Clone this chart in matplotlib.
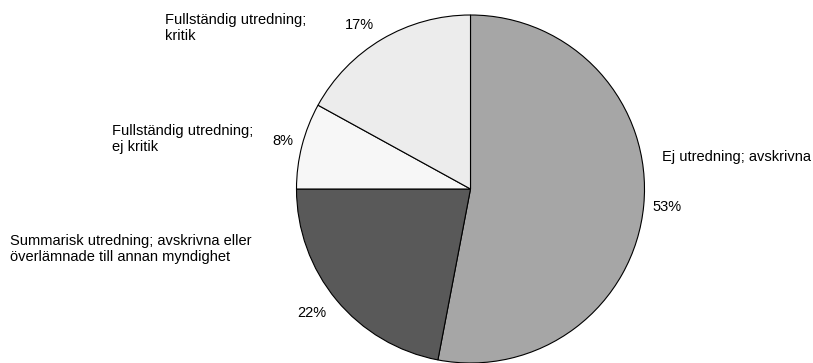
import matplotlib.pyplot as plt

plt.rcParams['font.family'] = ['Liberation Sans', 'DejaVu Sans']

# andel ärenden per utfall, medurs från kl. 12
kategorier = ['Ej utredning; avskrivna',
              'Summarisk utredning; avskrivna eller\növerlämnade till annan myndighet',
              'Fullständig utredning;\nej kritik',
              'Fullständig utredning;\nkritik']
andelar = [53, 22, 8, 17]
farger = ['#a6a6a6', '#595959', '#f7f7f7', '#ececec']

W, H = 813, 363
fig = plt.figure(figsize=(W / 100, H / 100), dpi=100)
ax = fig.add_axes([0, 0, 1, 1])

ax.pie(andelar, colors=farger, startangle=90, counterclock=False,
       center=(470.5, 174), radius=174, frame=True,
       wedgeprops=dict(edgecolor='black', linewidth=0.8))
ax.set_xlim(0, W)
ax.set_ylim(0, H)
ax.set_aspect('equal')
ax.axis('off')

# etiketter (x, y från överkant)
etikett_pos = [(662, 157), (10, 249), (112, 139), (165, 28)]
procent_pos = [(652, 207), (297, 313), (272, 141), (345, 25)]

for namn, v, (x, y), (px, py) in zip(kategorier, andelar, etikett_pos, procent_pos):
    ax.text(x, H - y, namn, fontsize=10.5, ha='left', va='center', linespacing=1.22)
    ax.text(px, H - py, f'{v}%', fontsize=10.5, ha='left', va='center')

plt.savefig('out.png', dpi=100)
